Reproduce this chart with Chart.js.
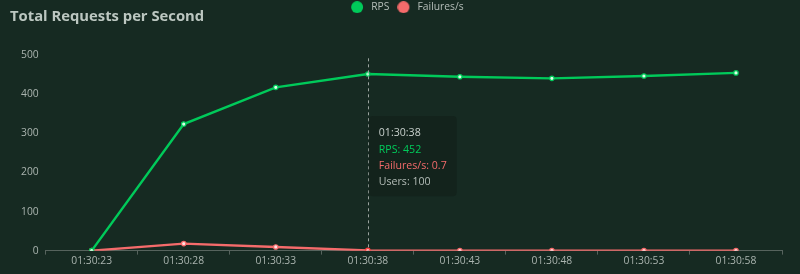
<!DOCTYPE html>
<html>
<head>
<meta charset="utf-8">
<script src="https://cdn.jsdelivr.net/npm/chart.js@4.4.1/dist/chart.umd.min.js"></script>
<style>
  html, body { margin: 0; padding: 0; background: #162a22; overflow: hidden; }
  #wrap { position: relative; width: 800px; height: 274px; overflow: hidden; }
  #title { position: absolute; left: 10px; top: 5px; font: bold 14.8px/normal "Open Sans", "Noto Sans", sans-serif; color: #bcc7c1; z-index: 2; white-space: nowrap; }
  #cwrap { position: absolute; left: 0; top: -6px; width: 800px; height: 280px; }
</style>
</head>
<body>
<div id="wrap">
  <div id="title">Total Requests per Second</div>
  <div id="cwrap"><canvas id="c"></canvas></div>
</div>
<script>
const timeLabels = ["01:30:23","01:30:28","01:30:33","01:30:38","01:30:43","01:30:48","01:30:53","01:30:58"];
const rpsValues = [0, 324, 418, 452, 445, 441, 447, 455];
const failureValues = [0, 18, 9.5, 0.7, 0, 0, 0, 0];
const userCounts = [0, 50, 100, 100, 100, 100, 100, 100];
const yTicks = [0, 100, 200, 300, 400, 500];
const activeIndex = 3;

const GREEN = '#00ca5a';
const RED = '#f56b6b';
const FONT = '"Open Sans", "Noto Sans", sans-serif';

function legendDot(color) {
  const c = document.createElement('canvas');
  c.width = 15; c.height = 12;
  const g = c.getContext('2d');
  g.fillStyle = color;
  g.beginPath();
  g.arc(6.15, 6, 6, 0, Math.PI * 2);
  g.fill();
  return c;
}

const pointerLine = {
  id: 'pointerLine',
  afterDatasetsDraw(chart) {
    const x = chart.scales.x.getPixelForValue(activeIndex);
    const a = chart.chartArea;
    const ctx = chart.ctx;
    ctx.save();
    ctx.strokeStyle = '#9aa39e';
    ctx.lineWidth = 1;
    ctx.setLineDash([3, 3]);
    ctx.beginPath();
    ctx.moveTo(Math.round(x) + 0.5, a.top + 3);
    ctx.lineTo(Math.round(x) + 0.5, a.bottom);
    ctx.stroke();
    ctx.restore();
  }
};

const legendSpacer = {
  id: 'legendSpacer',
  beforeInit(chart) {
    const orig = chart.legend.fit;
    chart.legend.fit = function() { orig.call(this); this.height += 33; };
  },
  afterLayout(chart) {
    chart.legend.left = 343;
  }
};

Chart.Tooltip.positioners.fixedRight = function(elements) {
  if (!elements.length) return false;
  return { x: elements[0].element.x, y: this.chart.scales.y.getPixelForValue(242) };
};

const chart = new Chart(document.getElementById('c'), {
  type: 'line',
  data: {
    labels: timeLabels,
    datasets: [
      { label: 'RPS', data: rpsValues, borderColor: GREEN, backgroundColor: GREEN,
        pointBackgroundColor: '#d8ffe6', pointBorderColor: GREEN, pointRadius: 2.2, pointBorderWidth: 1.2,
        pointHoverRadius: 2.2, pointHoverBorderWidth: 1.2, borderWidth: 2.4, tension: 0 },
      { label: 'Failures/s', data: failureValues, borderColor: RED, backgroundColor: RED,
        pointBackgroundColor: '#ffe0e0', pointBorderColor: RED, pointRadius: 2.2, pointBorderWidth: 1.2,
        pointHoverRadius: 2.2, pointHoverBorderWidth: 1.2, borderWidth: 2.4, tension: 0 }
    ]
  },
  options: {
    responsive: true,
    maintainAspectRatio: false,
    animation: false,
    events: [],
    layout: { padding: { left: 14, right: 18, top: 0, bottom: 7 } },
    scales: {
      x: {
        offset: true,
        grid: { display: true, offset: true, drawOnChartArea: false, drawTicks: true, tickLength: 4, color: '#56635d', lineWidth: 1 },
        border: { display: true, color: '#56635d' },
        ticks: { color: '#aab4af', font: { family: FONT, size: 10.3 }, padding: 0, maxRotation: 0, autoSkip: false }
      },
      y: {
        min: 0, max: 500,
        afterBuildTicks(axis) { axis.ticks = yTicks.map(v => ({ value: v })); },
        grid: { display: false, drawTicks: false },
        border: { display: false },
        ticks: { color: '#aab4af', font: { family: FONT, size: 10.3 }, padding: 7 }
      }
    },
    plugins: {
      legend: {
        position: 'top', align: 'start',
        labels: { color: '#b4bdb8', font: { family: FONT, size: 10.3 }, usePointStyle: true,
          pointStyleWidth: 15, boxHeight: 8.5, padding: 8,
          generateLabels(chart) {
            const items = Chart.defaults.plugins.legend.labels.generateLabels(chart);
            items.forEach(it => {
              const c = chart.data.datasets[it.datasetIndex].borderColor;
              it.fillStyle = c; it.strokeStyle = c; it.lineWidth = 0;
              it.pointStyle = legendDot(c);
            });
            return items;
          }
        }
      },
      tooltip: {
        enabled: true,
        animation: false,
        position: 'fixedRight',
        xAlign: 'left', yAlign: 'center',
        caretSize: 0, caretPadding: 1,
        backgroundColor: '#13231c',
        cornerRadius: 4,
        padding: { left: 10, right: 10, top: 11, bottom: 8 },
        displayColors: false,
        titleFont: { family: FONT, size: 10.6, weight: 'normal' },
        titleColor: '#c9d1cd',
        titleMarginBottom: 3.5,
        bodyFont: { family: FONT, size: 10.6 },
        bodySpacing: 3.5,
        footerFont: { family: FONT, size: 10.6, weight: 'normal' },
        footerColor: '#b4bdb8',
        footerMarginTop: 3.5,
        callbacks: {
          title: (items) => timeLabels[items[0].dataIndex],
          label: (item) => item.dataset.label + ': ' + item.raw,
          labelTextColor: (item) => item.datasetIndex === 0 ? GREEN : RED,
          footer: (items) => 'Users: ' + userCounts[items[0].dataIndex]
        }
      }
    }
  },
  plugins: [pointerLine, legendSpacer]
});

const act = [{ datasetIndex: 0, index: activeIndex }, { datasetIndex: 1, index: activeIndex }];
const px = chart.scales.x.getPixelForValue(activeIndex);
chart.setActiveElements(act);
chart.tooltip.setActiveElements(act, { x: px, y: 150 });
chart.update('none');
</script>
</body>
</html>
